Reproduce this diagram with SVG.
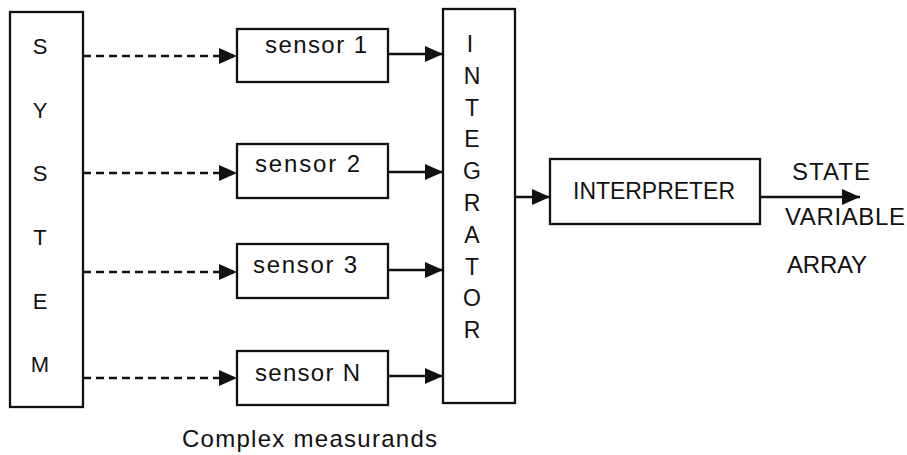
<svg xmlns="http://www.w3.org/2000/svg" width="907" height="455" viewBox="0 0 907 455">
<style>
.box{fill:#fff;stroke:#111;stroke-width:2.3}
.ln{stroke:#111;stroke-width:2.3;fill:none}
.dash{stroke-dasharray:8 5}
text{font-family:"Liberation Sans",Arial,sans-serif;fill:#111;font-size:24px}
.v{text-anchor:middle;font-size:22px}
.w{text-anchor:middle;font-size:23px}
</style>
<defs>
<marker id="ah" markerUnits="userSpaceOnUse" markerWidth="19" markerHeight="16" refX="18" refY="8" orient="auto">
<path d="M0,0 L18,8 L0,16 z" fill="#111"/>
</marker>
</defs>
<rect width="907" height="455" fill="#fff"/>
<g id="system">
<rect class="box" x="10" y="12" width="73" height="395"/>
<text class="v" x="40" y="54">S</text>
<text class="v" x="40" y="118">Y</text>
<text class="v" x="40" y="181">S</text>
<text class="v" x="40" y="245">T</text>
<text class="v" x="40" y="309">E</text>
<text class="v" x="40" y="372">M</text>
</g>
<g id="sensor1">
<rect class="box" x="237" y="29" width="151" height="53"/>
<text x="265" y="53" textLength="102" lengthAdjust="spacing">sensor 1</text>
</g>
<g id="sensor2">
<rect class="box" x="237" y="144" width="151" height="54"/>
<text x="255" y="172" textLength="105" lengthAdjust="spacing">sensor 2</text>
</g>
<g id="sensor3">
<rect class="box" x="237" y="244" width="151" height="54"/>
<text x="253" y="273" textLength="104" lengthAdjust="spacing">sensor 3</text>
</g>
<g id="sensorN">
<rect class="box" x="237" y="351" width="151" height="54"/>
<text x="255" y="381" textLength="105" lengthAdjust="spacing">sensor N</text>
</g>
<g id="integrator">
<rect class="box" x="443" y="9" width="72" height="394"/>
<text class="w" x="470" y="52">I</text>
<text class="w" x="472" y="84">N</text>
<text class="w" x="472" y="116">T</text>
<text class="w" x="472" y="147">E</text>
<text class="w" x="472" y="179">G</text>
<text class="w" x="472" y="211">R</text>
<text class="w" x="472" y="243">A</text>
<text class="w" x="472" y="275">T</text>
<text class="w" x="472" y="306">O</text>
<text class="w" x="472" y="338">R</text>
</g>
<g id="interpreter">
<rect class="box" x="550" y="159" width="210" height="65"/>
<text x="573" y="199" font-size="23" textLength="162" lengthAdjust="spacingAndGlyphs">INTERPRETER</text>
</g>
<g id="connectors">
<line class="ln dash" x1="83" y1="56" x2="237" y2="56" marker-end="url(#ah)"/>
<line class="ln dash" x1="83" y1="173" x2="237" y2="173" marker-end="url(#ah)"/>
<line class="ln dash" x1="83" y1="272" x2="237" y2="272" marker-end="url(#ah)"/>
<line class="ln dash" x1="83" y1="378" x2="237" y2="378" marker-end="url(#ah)"/>
<line class="ln" x1="388" y1="54" x2="443" y2="54" marker-end="url(#ah)"/>
<line class="ln" x1="388" y1="172" x2="443" y2="172" marker-end="url(#ah)"/>
<line class="ln" x1="388" y1="270" x2="443" y2="270" marker-end="url(#ah)"/>
<line class="ln" x1="388" y1="376" x2="443" y2="376" marker-end="url(#ah)"/>
<line class="ln" x1="515" y1="197" x2="550" y2="197" marker-end="url(#ah)"/>
<line class="ln" x1="760" y1="197" x2="860" y2="197" marker-end="url(#ah)"/>
</g>
<g id="labels">
<text x="792" y="180" font-size="22" textLength="78" lengthAdjust="spacing">STATE</text>
<text x="785" y="225" font-size="22" textLength="120" lengthAdjust="spacing">VARIABLE</text>
<text x="787" y="273" font-size="22" textLength="80" lengthAdjust="spacing">ARRAY</text>
<text x="182" y="447" textLength="255" lengthAdjust="spacing">Complex measurands</text>
</g>
</svg>
